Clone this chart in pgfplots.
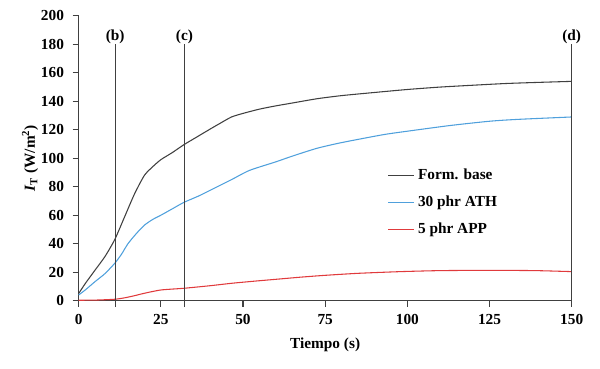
\documentclass[border=0pt]{standalone}
\usepackage{fontspec}
\setmainfont{Liberation Serif}
\usepackage{pgfplots}
\pgfplotsset{compat=1.18}
\definecolor{cbase}{HTML}{404040}
\definecolor{cath}{HTML}{4FA0DC}
\definecolor{capp}{HTML}{E03A3C}
\definecolor{caxis}{HTML}{404040}
\begin{document}
\begin{tikzpicture}[font=\fontsize{11.5}{13.8}\selectfont\bfseries]
\useasboundingbox (-59.0pt,-50.5pt) rectangle (391.0pt,225.5pt);
\begin{axis}[
  scale only axis, width=369.75pt, height=213.6pt,
  xmin=0, xmax=150, ymin=0, ymax=200,
  axis x line*=bottom, axis y line*=left,
  axis line style={caxis, line width=0.8pt},
  every tick/.style={caxis, line width=0.8pt},
  tick align=outside, major tick length=4.5pt,
  xtick={0,25,...,150}, ytick={0,20,...,200},
  minor tick num=0,
  /pgf/number format/assume math mode=true,
  ticklabel style={font=\fontsize{11.5}{13.8}\selectfont\bfseries},
  yticklabel style={xshift=-3pt},
  xticklabel style={yshift=-2.3pt},
  xlabel={Tiempo (s)},
  xlabel style={at={(axis description cs:0.5,0)}, anchor=base, yshift=-35.7pt},
  ylabel={\textit{I}\textsubscript{T} (W/m\textsuperscript{2})},
  ylabel style={at={(axis description cs:-0.0887,0.5)}, anchor=base},
  clip=false,
  legend cell align=left,
  legend style={at={(axis cs:94,92.5)}, anchor=north west, draw=none, fill=none,
    inner sep=0pt, outer sep=0pt, row sep=9.7pt, column sep=2.5pt,
    nodes={inner sep=0pt, text height=8pt, text depth=2.5pt,
      font=\fontsize{11.5}{13.8}\selectfont\bfseries}},
  legend image code/.code={\draw[#1] (0pt,0pt) -- (19.5pt,0pt);},
]
\addplot[cbase, line width=0.8pt, smooth, tension=0.4] coordinates {
(0,5) (2,12) (5,21.5) (8,31) (11,43) (14,59) (17,75) (20,88) (22.5,94) (25,99)
(28.5,104) (32,109.5) (36,115) (40,120.5) (43,124.5) (46.5,129) (50,131.5)
(55,134.5) (60,136.8) (65,138.8) (72.5,141.8) (80,144) (90,146.2) (100,148.3)
(110,150) (120,151.3) (130,152.5) (140,153.3) (150,154)};
\addlegendentry{Form. base}
\addplot[cath, line width=0.8pt, smooth, tension=0.4] coordinates {
(0,4) (2,7.5) (5,13.4) (8,19) (11,26.3) (13,32.5) (15,40) (17.5,47) (20,53)
(22.5,57) (25,60) (28.5,64.5) (32,69) (36.5,73.5) (40,77.5) (46.5,85) (52,91.5)
(60,97.5) (65,101.5) (72.5,107) (80,111) (92.5,116.5) (100,119) (113,123)
(125,126) (133.5,127.3) (150,129)};
\addlegendentry{30 phr ATH}
\addplot[capp, line width=0.8pt, smooth, tension=0.4] coordinates {
(0,0.3) (5,0.4) (11,1) (14,2) (17,3.5) (20,5.2) (25,7.5) (32,8.7) (40,10.5)
(46.5,12.2) (53,13.6) (60,15) (67.5,16.5) (75,17.8) (85,19.2) (98,20.4)
(110,21.1) (125,21.3) (139,21.1) (150,20.4)};
\addlegendentry{5 phr APP}
\addplot[caxis, line width=0.8pt, forget plot] coordinates {(11.1,-4.5) (11.1,180)};
\addplot[caxis, line width=0.8pt, forget plot] coordinates {(32.2,-4.5) (32.2,180)};
\addplot[caxis, line width=0.8pt, forget plot] coordinates {(150,0) (150,180)};
\node[anchor=south, inner sep=0.5pt] at (axis cs:11.1,180) {(b)};
\node[anchor=south, inner sep=0.5pt] at (axis cs:32.2,180) {(c)};
\node[anchor=south, inner sep=0.5pt] at (axis cs:150,180) {(d)};
\end{axis}
\end{tikzpicture}
\end{document}
